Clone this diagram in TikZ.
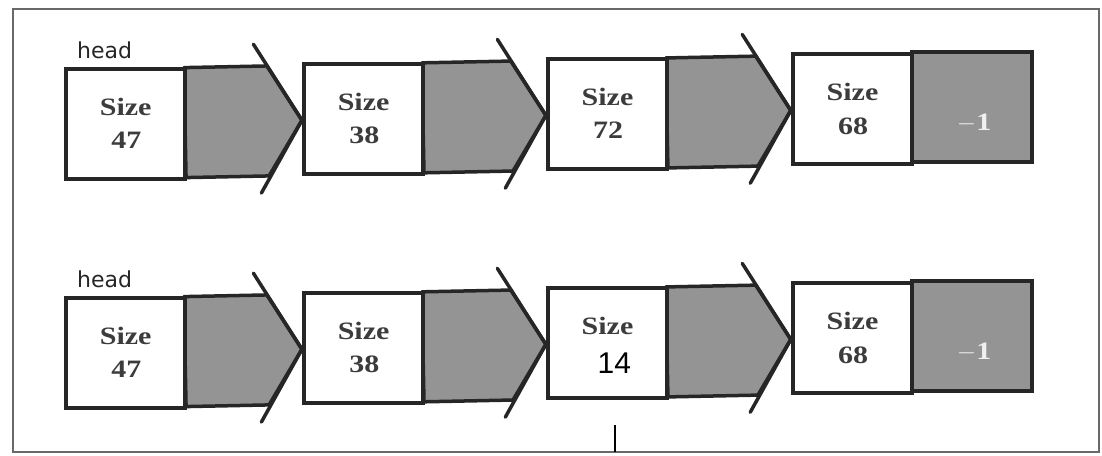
\documentclass[tikz,border=0pt]{standalone}
\usepackage{fontspec}
\newfontfamily\oldserif[FakeStretch=1.2]{Liberation Serif}
\newfontfamily\arialf{Liberation Sans}
\newfontfamily\headf{DejaVu Sans}
\definecolor{cellgray}{RGB}{148,148,148}
\definecolor{inkc}{RGB}{38,38,38}
\definecolor{framec}{RGB}{105,105,105}
\tikzset{
  rimline/.style={draw=inkc, line width=3.5pt, line cap=round, line join=round},
  whitebox/.style={draw=inkc, line width=3.5pt, fill=white, minimum width=119pt,
    minimum height=110pt, inner sep=0pt, outer sep=0pt},
  graybox/.style={draw=inkc, line width=3.5pt, fill=cellgray, minimum width=120pt,
    minimum height=110pt, inner sep=0pt, outer sep=0pt},
  sizetxt/.style={font=\oldserif\bfseries\fontsize{25}{25}\selectfont, text=inkc!90!white, inner sep=0pt},
  numtxt/.style={font=\arialf\fontsize{30}{30}\selectfont, text=black, inner sep=0pt},
  nilltxt/.style={font=\oldserif\bfseries\fontsize{25}{25}\selectfont, text=white!88!gray, inner sep=0pt},
  headtxt/.style={font=\headf\fontsize{22}{22}\selectfont, text=black!85, anchor=base west, inner sep=0pt},
}
% #1 name, #2 left x, #3 middle y, #4 tip x
\newcommand\ptrcell[4]{%
  \coordinate (#1tip) at (#4,#3);
  \coordinate (#1a) at (#4-47,#3-77);
  \coordinate (#1b) at (#4-42,#3+72);
  \coordinate (#1c) at (#4-34,#3-55);
  \coordinate (#1d) at (#4-34,#3+55);
  \coordinate (#1e) at (#2+119,#3-55);
  \coordinate (#1f) at (#2+119,#3+55);
  \filldraw[rimline, fill=cellgray] (#1e) -- (#1c) -- (#1tip) -- (#1d) -- (#1f) -- cycle;
  \node[whitebox] (#1) at (#2+59.5,#3) {};
  \draw[rimline] (#1a) -- (#1tip) -- (#1b);
  \node[sizetxt] (#1s) at (#2+60,#3-17) {Size};
}
\newcommand\lastcell[3]{%
  \node[whitebox] (#1) at (#2+59.5,#3) {};
  \node[graybox] (#1g) at (#2+179,#3) {};
  \node[sizetxt] (#1s) at (#2+60,#3-17) {Size};
  \node[nilltxt] (#1n) at (#2+181,#3+17) {$-$1};
}
\begin{document}
\begin{tikzpicture}[x=1pt,y=-1pt]
\useasboundingbox (0,0) rectangle (1102,455);
\draw[draw=framec, line width=2.5pt] (13,9) rectangle (1099,452);

% ---------- row 1 ----------
\begin{scope}[rotate around={1.15:(66,125)}]
  \ptrcell{ra}{66}{125}{302}
  \ptrcell{rb}{304}{125}{546}
  \ptrcell{rc}{548}{125}{791}
  \lastcell{rd}{793}{125}
  \node[sizetxt] (rav) at (126,141) {47};
  \node[sizetxt] (rbv) at (364,141) {38};
  \node[sizetxt] (rcv) at (608,141) {72};
  \node[sizetxt] (rdv) at (853,142) {68};
\end{scope}
\node[headtxt] (h1) at (77,58) {head};

% ---------- row 2 ----------
\begin{scope}[rotate around={1.15:(66,354)}]
  \ptrcell{sa}{66}{354}{302}
  \ptrcell{sb}{304}{354}{546}
  \ptrcell{sc}{548}{354}{791}
  \lastcell{sd}{793}{354}
  \node[sizetxt] (sav) at (126,370) {47};
  \node[sizetxt] (sbv) at (364,370) {38};
  \node[numtxt] (scv) at (614,374) {14};
  \node[sizetxt] (sdv) at (853,371) {68};
\end{scope}
\node[headtxt] (h2) at (77,287) {head};

% small mark below the third cell
\coordinate (m1) at (615,425);
\coordinate (m2) at (615,452);
\draw[black, line width=1.6pt] (m1) -- (m2);
\end{tikzpicture}
\end{document}
